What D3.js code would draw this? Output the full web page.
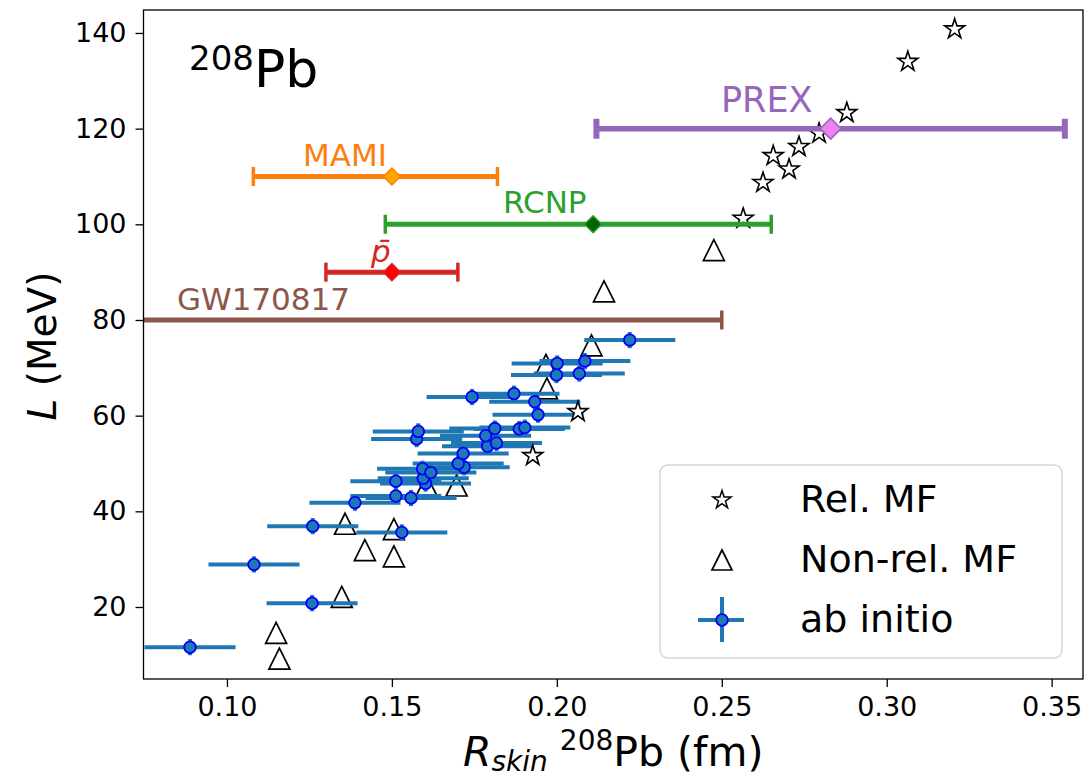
<!DOCTYPE html>
<html>
<head>
<meta charset="utf-8">
<script src="https://cdn.jsdelivr.net/npm/d3@7"></script>
<style>
  body { margin: 0; background: #fff; }
  text { font-family: "DejaVu Sans", sans-serif; }
</style>
</head>
<body>
<div id="my_dataviz"></div>
<script>
// Rel. MF (stars)
var relR = [0.3206, 0.3064, 0.2879, 0.2795, 0.2734, 0.2656, 0.2704, 0.2625, 0.2565, 0.2064, 0.1927];
var relL = [140.8, 134.0, 123.3, 119.0, 116.2, 114.3, 111.5, 108.7, 101.2, 60.8, 51.6];

// Non-rel. MF (triangles)
var nonrelR = [0.2476, 0.2143, 0.2105, 0.1967, 0.1970, 0.1605, 0.1696, 0.1358, 0.1506, 0.1418, 0.1506, 0.1348, 0.1149, 0.1159];
var nonrelL = [94.6, 86.0, 74.7, 70.6, 65.7, 45.4, 45.4, 37.4, 36.3, 31.9, 30.6, 22.1, 14.6, 9.2];

// ab initio (circles with error bars)
var abR = [0.0888, 0.1258, 0.1082, 0.1260, 0.1530, 0.1388, 0.1512, 0.1558, 0.1512, 0.1602, 0.1595,
           0.1593, 0.1618, 0.1719, 0.1701, 0.1716, 0.1790, 0.1817, 0.1575, 0.1784, 0.1580, 0.1812,
           0.1886, 0.1903, 0.1943, 0.1933, 0.1743, 0.1870, 0.1999, 0.2068, 0.2001, 0.2085, 0.2221];
var abL = [11.6, 20.8, 28.9, 36.9, 35.6, 41.8, 43.2, 42.8, 46.3, 45.8, 46.9,
           48.9, 48.1, 49.2, 50.0, 52.1, 53.6, 54.3, 55.1, 55.8, 56.7, 57.3,
           57.2, 57.5, 60.2, 62.9, 63.9, 64.6, 68.5, 68.8, 70.9, 71.4, 75.8];
var abXerr = 0.0138;
var abYerr = 1.7;

// experiments
var expNames = ["PREX", "MAMI", "RCNP", "p\u0304", "GW170817"];
var expR = [0.283, 0.150, 0.211, 0.150, null];
var expLo = [0.212, 0.108, 0.148, 0.130, 0.0];
var expHi = [0.354, 0.182, 0.265, 0.170, 0.250];
var expL = [120, 110, 100, 90, 80];
var expColor = ["#9467bd", "#ff7f0e", "#2ca02c", "#d62728", "#8c564b"];
var expFace = ["#ee82ee", "#ffa500", "#006400", "#ff0000", null];

var xTicks = [0.10, 0.15, 0.20, 0.25, 0.30, 0.35];
var yTicks = [20, 40, 60, 80, 100, 120, 140];

var margin = { top: 10, right: 3, bottom: 99, left: 143.5 },
  width = 1086 - margin.left - margin.right,
  height = 778 - margin.top - margin.bottom;

var svgRoot = d3.select("#my_dataviz")
  .append("svg")
  .attr("width", 1086)
  .attr("height", 778);

svgRoot.append("rect").attr("width", 1086).attr("height", 778).attr("fill", "white");

var svg = svgRoot.append("g")
  .attr("transform", "translate(" + margin.left + "," + margin.top + ")");

var x = d3.scaleLinear().domain([0.0747, 0.3595]).range([0, width]);
var y = d3.scaleLinear().domain([4.95, 144.8]).range([height, 0]);

svg.append("defs").append("clipPath").attr("id", "clip")
  .append("rect").attr("width", width).attr("height", height);

var plot = svg.append("g").attr("clip-path", "url(#clip)");

function starPath(r) {
  var pts = [];
  for (var i = 0; i < 10; i++) {
    var rr = i % 2 == 0 ? r : r * 0.381966;
    var a = Math.PI / 5 * i;
    pts.push([rr * Math.sin(a), -rr * Math.cos(a)]);
  }
  return "M" + pts.join("L") + "Z";
}
function triPath(h) {
  return "M0," + (-h) + "L" + h + "," + h + "L" + (-h) + "," + h + "Z";
}
function diamondPath(h) {
  return "M0," + (-h) + "L" + h + ",0L0," + h + "L" + (-h) + ",0Z";
}

// triangles
plot.selectAll(".tri")
  .data(nonrelR)
  .enter()
  .append("path")
  .attr("class", "tri")
  .attr("d", triPath(10.5))
  .attr("transform", (d, i) => "translate(" + x(d) + "," + y(nonrelL[i]) + ")")
  .attr("fill", "none")
  .attr("stroke", "black")
  .attr("stroke-width", 1.7);

// ab initio error bars
var abData = abR.map((d, i) => ({ r: d, L: abL[i] }));
plot.selectAll(".abx")
  .data(abData)
  .enter()
  .append("line")
  .attr("x1", d => x(d.r - abXerr))
  .attr("x2", d => x(d.r + abXerr))
  .attr("y1", d => y(d.L))
  .attr("y2", d => y(d.L))
  .attr("stroke", "#1f77b4")
  .attr("stroke-width", 4);
plot.selectAll(".aby")
  .data(abData)
  .enter()
  .append("line")
  .attr("x1", d => x(d.r))
  .attr("x2", d => x(d.r))
  .attr("y1", d => y(d.L - abYerr))
  .attr("y2", d => y(d.L + abYerr))
  .attr("stroke", "#1f77b4")
  .attr("stroke-width", 4);
plot.selectAll(".abc")
  .data(abData)
  .enter()
  .append("circle")
  .attr("cx", d => x(d.r))
  .attr("cy", d => y(d.L))
  .attr("r", 5.8)
  .attr("fill", "#1f77b4")
  .attr("stroke", "blue")
  .attr("stroke-width", 1.8);

// stars
plot.selectAll(".star")
  .data(relR)
  .enter()
  .append("path")
  .attr("d", starPath(10.5))
  .attr("transform", (d, i) => "translate(" + x(d) + "," + y(relL[i]) + ")")
  .attr("fill", "white")
  .attr("stroke", "black")
  .attr("stroke-width", 1.6);

// experimental bars
expNames.forEach(function (name, i) {
  var lw = i == 0 ? 5.5 : 5;
  var capw = i == 0 ? 6 : 3.5;
  var caph = i == 0 ? 10 : 9.5;
  var yy = y(expL[i]);
  plot.append("line")
    .attr("x1", x(expLo[i])).attr("x2", x(expHi[i]))
    .attr("y1", yy).attr("y2", yy)
    .attr("stroke", expColor[i]).attr("stroke-width", lw);
  [expLo[i], expHi[i]].forEach(function (v) {
    plot.append("line")
      .attr("x1", x(v)).attr("x2", x(v))
      .attr("y1", yy - caph).attr("y2", yy + caph)
      .attr("stroke", expColor[i]).attr("stroke-width", capw);
  });
  if (expR[i] != null) {
    plot.append("path")
      .attr("d", diamondPath(i == 0 ? 10.5 : 8.5))
      .attr("transform", "translate(" + x(expR[i]) + "," + yy + ")")
      .attr("fill", expFace[i])
      .attr("stroke", expColor[i])
      .attr("stroke-width", 1.5);
  }
});

// experiment labels
var labelPos = [[721, 112], [303, 166], [503, 213], [371, 262], [177, 310]];
expNames.forEach(function (name, i) {
  svgRoot.append("text")
    .attr("x", labelPos[i][0])
    .attr("y", labelPos[i][1])
    .attr("font-size", i == 0 ? "35px" : "31px")
    .attr("font-style", i == 3 ? "italic" : "normal")
    .attr("fill", expColor[i])
    .text(name);
});

// 208Pb tag
var tag = svgRoot.append("text").attr("x", 189).attr("y", 87).attr("fill", "black");
tag.append("tspan").attr("font-size", "34px").attr("dy", -17).text("208");
tag.append("tspan").attr("font-size", "52px").attr("dy", 17).text("Pb");

// axes
var xAxis = svg.append("g")
  .attr("transform", "translate(0," + height + ")")
  .call(d3.axisBottom(x).tickValues(xTicks).tickFormat(d3.format(".2f")).tickSize(8).tickPadding(10));
var yAxis = svg.append("g")
  .call(d3.axisLeft(y).tickValues(yTicks).tickSize(8).tickPadding(9));
[xAxis, yAxis].forEach(function (a) {
  a.select(".domain").remove();
  a.selectAll("line").attr("stroke", "black").attr("stroke-width", 1.3);
  a.selectAll("text").attr("font-size", "27px").attr("fill", "black")
    .attr("font-family", "DejaVu Sans");
});

svg.append("rect")
  .attr("width", width).attr("height", height)
  .attr("fill", "none").attr("stroke", "black").attr("stroke-width", 1.3);

// axis labels
var xl = svgRoot.append("text")
  .attr("x", margin.left + width / 2)
  .attr("y", 766)
  .attr("text-anchor", "middle")
  .attr("font-size", "41px")
  .attr("fill", "black");
xl.append("tspan").attr("font-style", "italic").text("R");
xl.append("tspan").attr("font-style", "italic").attr("font-size", "28px").attr("dy", 5).text("skin");
xl.append("tspan").attr("font-size", "28px").attr("dy", -21).attr("dx", 12).text("208");
xl.append("tspan").attr("dy", 16).text("Pb (fm)");

var yl = svgRoot.append("text")
  .attr("transform", "translate(56,346) rotate(-90)")
  .attr("text-anchor", "middle")
  .attr("font-size", "39px")
  .attr("fill", "black");
yl.append("tspan").attr("font-style", "italic").text("L");
yl.append("tspan").text(" (MeV)");

// legend
var leg = svgRoot.append("g");
leg.append("rect")
  .attr("x", 660).attr("y", 465).attr("width", 402).attr("height", 193)
  .attr("rx", 8)
  .attr("fill", "white").attr("fill-opacity", 0.8)
  .attr("stroke", "#d6d6d6").attr("stroke-width", 1.5);
var legNames = ["Rel. MF", "Non-rel. MF", "ab initio"];
var legY = [500, 560, 620];
leg.append("path").attr("d", starPath(9.5))
  .attr("transform", "translate(722," + legY[0] + ")")
  .attr("fill", "white").attr("stroke", "black").attr("stroke-width", 1.5);
leg.append("path").attr("d", triPath(10))
  .attr("transform", "translate(722," + legY[1] + ")")
  .attr("fill", "none").attr("stroke", "black").attr("stroke-width", 1.7);
leg.append("line").attr("x1", 698).attr("x2", 744).attr("y1", legY[2]).attr("y2", legY[2])
  .attr("stroke", "#1f77b4").attr("stroke-width", 4);
leg.append("line").attr("x1", 722).attr("x2", 722).attr("y1", legY[2] - 23).attr("y2", legY[2] + 22)
  .attr("stroke", "#1f77b4").attr("stroke-width", 4);
leg.append("circle").attr("cx", 722).attr("cy", legY[2]).attr("r", 5.8)
  .attr("fill", "#1f77b4").attr("stroke", "blue").attr("stroke-width", 1.8);
legNames.forEach(function (n, i) {
  leg.append("text")
    .attr("x", 800).attr("y", legY[i] + 12)
    .attr("font-size", "38px").attr("fill", "black")
    .text(n);
});
</script>
</body>
</html>
